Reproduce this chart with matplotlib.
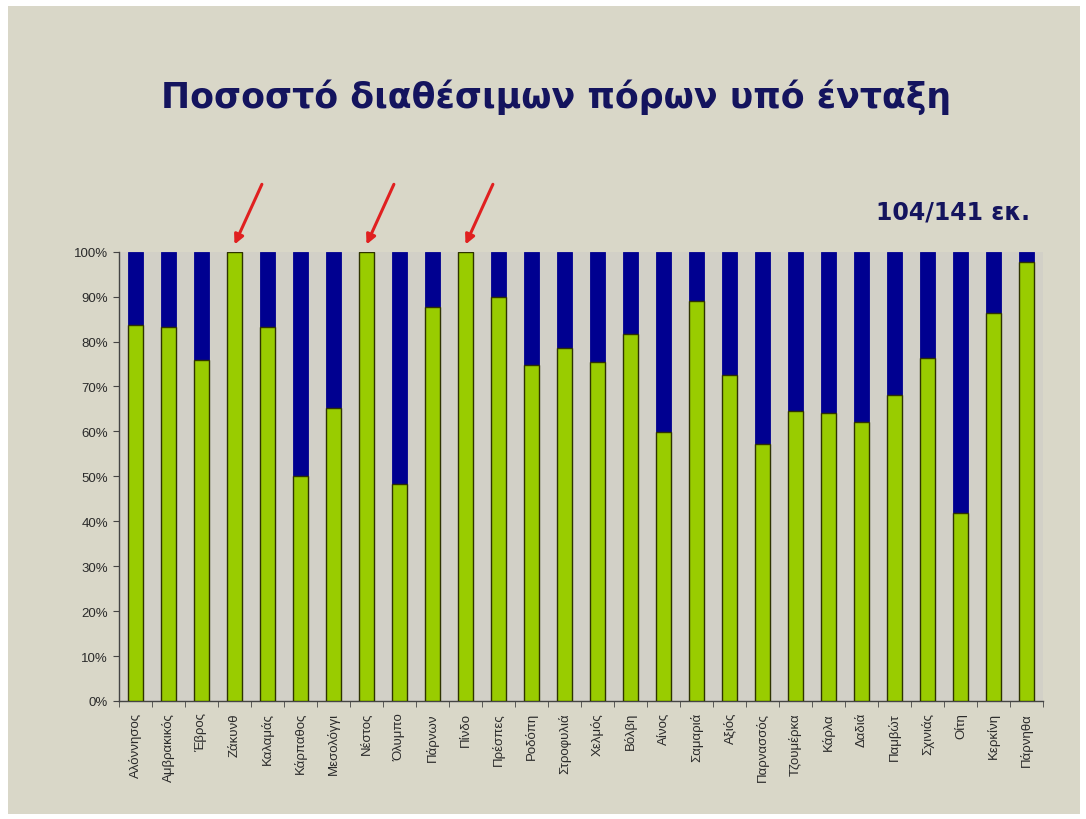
#!/usr/bin/env python3
"""
Share of available resources under inclusion, per protected area (stacked 100% bars).
"""

import matplotlib

matplotlib.use("Agg")

import matplotlib.pyplot as plt
from matplotlib.patches import Rectangle
from matplotlib.ticker import PercentFormatter

# Data
areas = [
    "Αλόννησος", "Αμβρακικός", "Έβρος", "Ζάκυνθ", "Καλαμάς", "Κάρπαθος",
    "Μεσολόγγι", "Νέστος", "Όλυμπο", "Πάρνων", "Πίνδο", "Πρέσπες",
    "Ροδόπη", "Στροφυλιά", "Χελμός", "Βόλβη", "Αίνος", "Σαμαριά",
    "Αξιός", "Παρνασσός", "Τζουμέρκα", "Κάρλα", "Δαδιά", "Παμβώτ",
    "Σχινιάς", "Οίτη", "Κερκίνη", "Πάρνηθα",
]
included_pct = [
    83.7, 83.2, 75.9, 100.0, 83.2, 50.0,
    65.3, 100.0, 48.2, 87.8, 100.0, 90.0,
    74.8, 78.5, 75.4, 81.7, 59.8, 89.1,
    72.5, 57.3, 64.5, 64.2, 62.0, 68.1,
    76.3, 41.8, 86.3, 97.6,
]
remaining_pct = [100.0 - v for v in included_pct]
highlighted = ["Ζάκυνθ", "Νέστος", "Πίνδο"]

TITLE = "Ποσοστό διαθέσιμων πόρων υπό ένταξη"
NOTE = "104/141 εκ."

SLIDE_BG = "#D9D7C8"
PLOT_BG = "#D2D0C7"
GREEN = "#99CC00"
NAVY = "#000090"
TEXT_NAVY = "#14145E"

W, H = 1086, 820


def main() -> int:
    fig = plt.figure(figsize=(W / 100, H / 100), dpi=100, facecolor="white")
    # slide area inside a thin white border
    fig.patches.append(Rectangle((8 / W, 1 - 815 / H), (1080 - 8) / W, (815 - 7) / H,
                                 transform=fig.transFigure, facecolor=SLIDE_BG,
                                 edgecolor="none", zorder=-10))

    ax = fig.add_axes([119 / W, 1 - 702 / H, (1043 - 119) / W, (702 - 252.7) / H])
    ax.set_zorder(5)
    ax.set_facecolor(PLOT_BG)

    x = list(range(len(areas)))
    ax.bar(x, [v / 100 for v in included_pct], width=0.45, color=GREEN,
           edgecolor="#2E3300", linewidth=1.0, zorder=3)
    ax.bar(x, [v / 100 for v in remaining_pct], width=0.45,
           bottom=[v / 100 for v in included_pct], color=NAVY,
           edgecolor=NAVY, linewidth=0.6, zorder=2)

    ax.set_xlim(-0.5, len(areas) - 0.5)
    ax.set_ylim(0, 1)
    ax.set_yticks([i / 10 for i in range(11)])
    ax.yaxis.set_major_formatter(PercentFormatter(1.0, decimals=0))

    ax.set_xticks(x)
    ax.set_xticklabels(areas, rotation=90, fontsize=9.5, family="Liberation Sans",
                       color="#2A2A2A")
    ax.set_xticks([i + 0.5 for i in range(-1, len(areas))], minor=True)
    ax.tick_params(axis="x", which="major", length=0, pad=8)
    ax.tick_params(axis="x", which="minor", length=4, direction="out", color="#444444")
    ax.tick_params(axis="y", length=4, direction="out", color="#444444",
                   labelsize=9.5, labelcolor="#2A2A2A", pad=4)
    for lab in ax.get_yticklabels():
        lab.set_family("Liberation Sans")

    for side in ("top", "right"):
        ax.spines[side].set_visible(False)
    for side in ("left", "bottom"):
        ax.spines[side].set_color("#444444")
        ax.spines[side].set_linewidth(1.0)

    # red arrows over the fully included areas
    for name in highlighted:
        i = areas.index(name)
        ax.annotate("", xy=(i, 1.016), xytext=(i + 0.83, 1.15),
                    xycoords="data", textcoords="data", annotation_clip=False,
                    arrowprops=dict(arrowstyle="-|>", color="#E02020", lw=2.2,
                                    mutation_scale=14, shrinkA=0, shrinkB=0))

    fig.text(556 / W, 1 - 97 / H, TITLE, ha="center", va="center", fontsize=25,
             fontweight="bold", color=TEXT_NAVY, family="DejaVu Sans")
    fig.text(1030 / W, 1 - 213 / H, NOTE, ha="right", va="center", fontsize=17,
             fontweight="bold", color=TEXT_NAVY, family="DejaVu Sans")

    fig.savefig("out.png", dpi=100, facecolor=fig.get_facecolor())
    plt.close(fig)
    return 0


if __name__ == "__main__":
    raise SystemExit(main())
